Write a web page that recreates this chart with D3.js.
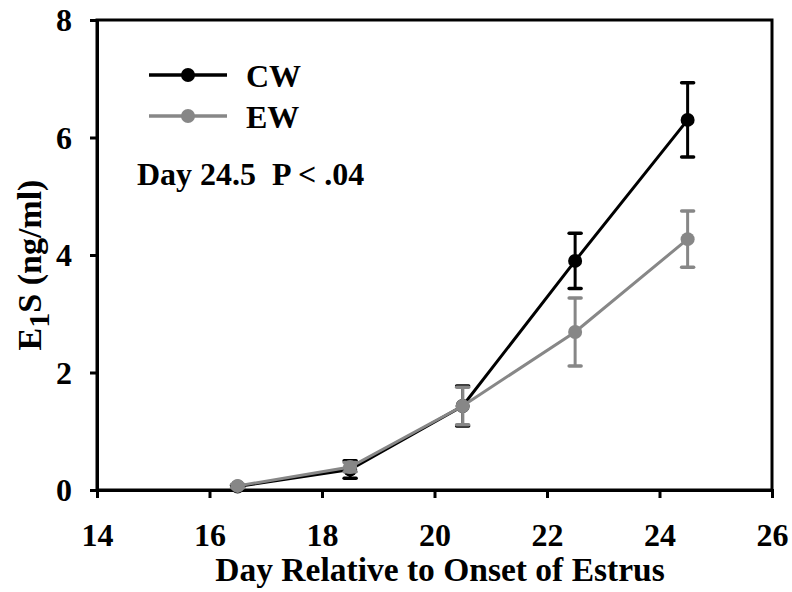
<!DOCTYPE html>
<html><head><meta charset="utf-8">
<script src="https://cdn.jsdelivr.net/npm/d3@7/dist/d3.min.js"></script>
<style>body{margin:0;background:#fff}svg{display:block}text{font-family:"Liberation Serif","Times New Roman",serif;font-weight:bold}</style>
</head><body><svg id="c" width="792" height="592"></svg>
<script>
const days = [16.5, 18.5, 20.5, 22.5, 24.5];
const cwMean = [0.06, 0.35, 1.43, 3.90, 6.30];
const cwErr  = [0.02, 0.15, 0.34, 0.47, 0.63];
const ewMean = [0.07, 0.39, 1.43, 2.69, 4.27];
const ewErr  = [0.03, 0.08, 0.32, 0.58, 0.48];
const xTicks = [14, 16, 18, 20, 22, 24, 26];
const yTicks = [0, 2, 4, 6, 8];
const seriesNames = ["CW", "EW"];
const seriesColors = ["#000000", "#878787"];

const svg = d3.select("#c");
const x = d3.scaleLinear().domain([14, 26]).range([97, 772]);
const y = d3.scaleLinear().domain([0, 8]).range([490, 20]);

// frame
svg.append("rect").attr("x", 97).attr("y", 20).attr("width", 675).attr("height", 470)
  .attr("fill", "none").attr("stroke", "#000").attr("stroke-width", 3);

const xAx = svg.append("g").attr("transform", "translate(0,490)")
  .call(d3.axisBottom(x).tickValues(xTicks).tickSize(8).tickPadding(25).tickFormat(d3.format("d")));
const yAx = svg.append("g").attr("transform", "translate(97,0)")
  .call(d3.axisLeft(y).tickValues(yTicks).tickSize(7).tickPadding(18).tickFormat(d3.format("d")));
[xAx, yAx].forEach(g => {
  g.select(".domain").attr("stroke-width", 3);
  g.selectAll(".tick line").attr("stroke-width", 3);
  g.selectAll(".tick text").style("font-size", "32px").attr("fill", "#000");
});
xAx.selectAll(".tick text").attr("dy", "0.71em");
yAx.selectAll(".tick text").attr("dy", "0.34em");

const series = [
  {name: seriesNames[0], color: seriesColors[0], mean: cwMean, err: cwErr},
  {name: seriesNames[1], color: seriesColors[1], mean: ewMean, err: ewErr}
];
const line = d3.line().x(d => x(d.x)).y(d => y(d.y));
series.forEach(s => {
  const pts = days.map((d, i) => ({x: d, y: s.mean[i], e: s.err[i]}));
  const g = svg.append("g");
  g.append("path").datum(pts).attr("d", line).attr("fill", "none")
    .attr("stroke", s.color).attr("stroke-width", 3);
  const eb = g.selectAll(".eb").data(pts).enter().append("g");
  eb.append("line").attr("x1", d => x(d.x)).attr("x2", d => x(d.x))
    .attr("y1", d => y(d.y - d.e)).attr("y2", d => y(d.y + d.e))
    .attr("stroke", s.color).attr("stroke-width", 3);
  [-1, 1].forEach(sg => {
    eb.append("line").attr("x1", d => x(d.x) - 6).attr("x2", d => x(d.x) + 6)
      .attr("y1", d => y(d.y + sg * d.e)).attr("y2", d => y(d.y + sg * d.e))
      .attr("stroke", s.color).attr("stroke-width", 3.5).attr("stroke-linecap", "round");
  });
  g.selectAll("circle").data(pts).enter().append("circle")
    .attr("cx", d => x(d.x)).attr("cy", d => y(d.y)).attr("r", 7).attr("fill", s.color);
});

// legend
series.forEach((s, i) => {
  const ly = 75 + i * 41;
  svg.append("line").attr("x1", 149).attr("x2", 227).attr("y1", ly).attr("y2", ly)
    .attr("stroke", s.color).attr("stroke-width", 3.5);
  svg.append("circle").attr("cx", 188).attr("cy", ly).attr("r", 7).attr("fill", s.color);
  svg.append("text").attr("x", 246).attr("y", ly + 12).style("font-size", "32px").text(s.name);
});
svg.append("text").attr("x", 137).attr("y", 185).style("font-size", "32px")
  .attr("xml:space", "preserve").style("white-space", "pre").text("Day 24.5  P < .04");

// axis titles
svg.append("text").attr("x", 440).attr("y", 581).attr("text-anchor", "middle")
  .style("font-size", "33.5px").text("Day Relative to Onset of Estrus");
const yt = svg.append("text").attr("transform", "translate(41,265) rotate(-90)")
  .attr("text-anchor", "middle").style("font-size", "34px");
yt.append("tspan").text("E");
yt.append("tspan").attr("dy", 8).style("font-size", "30px").text("1");
yt.append("tspan").attr("dy", -8).text("S (ng/ml)");
</script></body></html>
